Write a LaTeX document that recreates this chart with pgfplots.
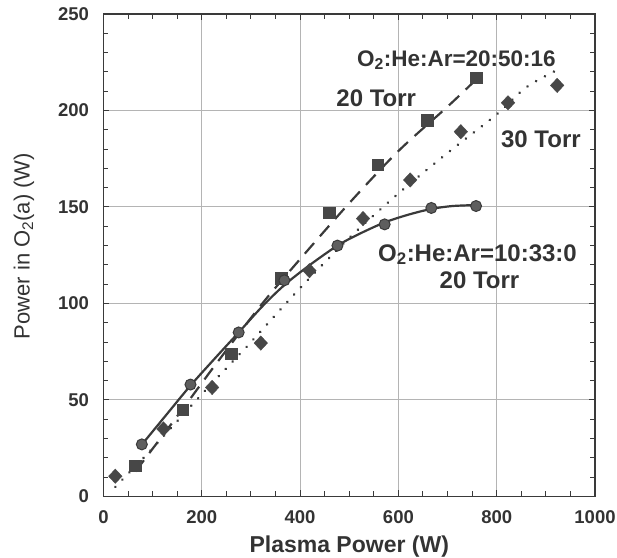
\documentclass[border=0pt]{standalone}
\usepackage{fontspec}
\setmainfont{Liberation Sans}
\usepackage{pgfplots}
\pgfplotsset{compat=1.18}
\definecolor{ink}{HTML}{3A3A3A}
\definecolor{txt}{HTML}{333333}
\definecolor{gridc}{HTML}{B4B4B4}
\definecolor{markc}{HTML}{474747}
\definecolor{circc}{HTML}{5E5E5E}
\begin{document}
\begin{tikzpicture}
\begin{axis}[
  name=ax,
  width=491.5pt, height=482.5pt, scale only axis,
  xmin=0, xmax=1000, ymin=0, ymax=250,
  xtick={0,200,...,1000}, ytick={0,50,...,250},
  minor x tick num=3, minor y tick num=4,
  grid=major, major grid style={gridc, line width=1pt},
  tick align=inside,
  major tick length=6pt, minor tick length=5pt,
  every tick/.style={ink, line width=1pt},
  axis line style={ink, line width=1.6pt},
  /pgf/number format/assume math mode=true,
  /pgf/number format/1000 sep={},
  tick label style={font=\fontsize{18.5}{18.5}\selectfont\bfseries, text=txt},
  xticklabel style={yshift=-11pt},
  yticklabel style={xshift=-11pt},
  xlabel={Plasma Power (W)},
  ylabel={Power in O\textsubscript{2}(a) (W)},
  xlabel style={font=\fontsize{23}{23}\selectfont\bfseries, text=txt, at={(axis description cs:0.5,-0.116)}, anchor=base},
  ylabel style={font=\fontsize{22}{22}\selectfont, text=txt, at={(axis description cs:-0.162,0.519)}, anchor=center},
  clip=false,
]
% fitted curves
\addplot[ink, line width=2.2pt, smooth, no marks] coordinates {
 (80,27.5) (130,43) (177,57.5) (230,72.5) (275,85) (325,99) (370,110) (420,120)
 (476,130) (520,136) (572,142) (620,146) (667,149) (710,150.5) (758,151)};
\addplot[ink, line width=2.2pt, dash pattern=on 14pt off 9pt, smooth, no marks] coordinates {
 (65,13) (160,45) (224,67) (320,99) (400,123) (500,152) (600,179) (700,202) (758,216)};
\addplot[ink, line width=2.8pt, dash pattern=on 0.1pt off 10pt, line cap=round, smooth, no marks] coordinates {
 (24,5) (100,25) (200,53) (300,80) (400,108) (500,134) (600,157) (700,178) (800,198) (860,212) (923,221)};
% data points
\addplot[only marks, mark=square*, mark size=5.8pt, color=markc] coordinates {
 (65,16) (161,45) (260,74) (362,113) (459,147) (558,172) (658,195) (758,217)};
\addplot[only marks, mark=diamond*, mark size=7.2pt, color=markc, mark options={xscale=1.25}] coordinates {
 (24,10.5) (122,35) (221,56.5) (320,79.5) (419,117) (528,144) (624,164) (727,189) (823,204) (923,213)};
\addplot[only marks, mark=*, mark size=5.5pt, color=ink, mark options={fill=circc, line width=1pt}] coordinates {
 (78,27) (177,58) (275,85) (368,112) (476,130) (572,141) (667,149.5) (758,150.5)};
% annotations
\begin{scope}[every node/.style={font=\fontsize{24}{24}\selectfont\bfseries, text=txt, anchor=base, inner sep=0pt}]
\node[font=\fontsize{22.5}{22.5}\selectfont\bfseries] at (axis cs:718,223) {O\textsubscript{2}:He:Ar=20:50:16};
\node at (axis cs:555,202) {20 Torr};
\node at (axis cs:890,181) {30 Torr};
\node at (axis cs:761,122) {O\textsubscript{2}:He:Ar=10:33:0};
\node at (axis cs:765,108) {20 Torr};
\end{scope}
\end{axis}
\pgfresetboundingbox
\path ([xshift=-103.5pt, yshift=-61.5pt]ax.south west) rectangle ([xshift=22pt, yshift=14pt]ax.north east);
\end{tikzpicture}
\end{document}
